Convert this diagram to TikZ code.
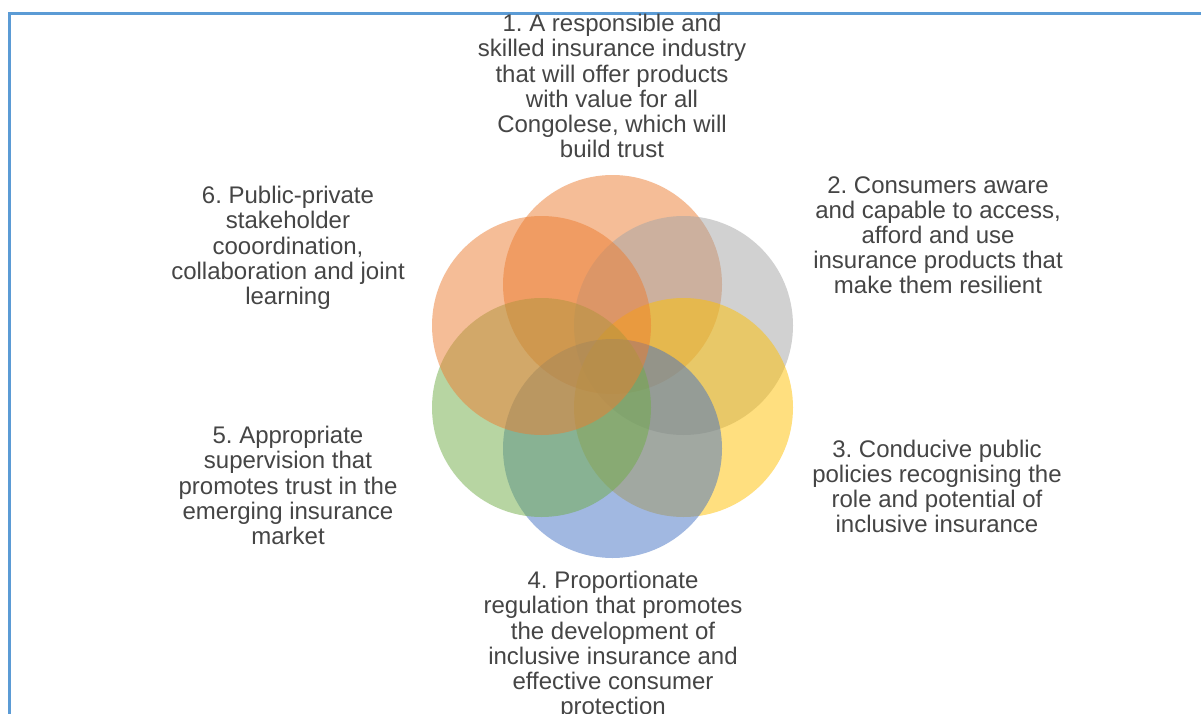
\documentclass[tikz,border=0pt]{standalone}
\usepackage{fontspec}
\setmainfont{Liberation Sans}
\frenchspacing
\begin{document}
\begin{tikzpicture}[x=0.75pt,y=-0.75pt,
  petal/.style={circle,draw=none,minimum size=164.25pt,inner sep=0pt,fill opacity=0.5},
  label/.style={anchor=north,align=center,inner sep=0pt,text=txtgray,
    font=\fontsize{18}{18.9}\selectfont}]
\definecolor{frameblue}{HTML}{5B9BD5}
\definecolor{txtgray}{HTML}{454545}
\definecolor{cOrange}{HTML}{ED7D31}
\definecolor{cGray}{HTML}{A5A5A5}
\definecolor{cGold}{HTML}{FFC000}
\definecolor{cBlue}{HTML}{4472C4}
\definecolor{cGreen}{HTML}{70AD47}
\useasboundingbox (0,0) rectangle (1201,713);
\fill[white] (0,0) rectangle (1201,713);

% frame
\draw[frameblue,line width=1.6pt] (9.5,13.5) rectangle (1240,760);

% six overlapping petals
\node[petal,fill=cOrange] (p1) at (612.5,284.5) {};
\node[petal,fill=cGray]   (p2) at (683.5,325.5) {};
\node[petal,fill=cGold]   (p3) at (683.5,407.5) {};
\node[petal,fill=cBlue]   (p4) at (612.5,448.5) {};
\node[petal,fill=cGreen]  (p5) at (541.5,407.5) {};
\node[petal,fill=cOrange] (p6) at (541.5,325.5) {};

% labels
\node[label] (t1) at (612,14) {1. A responsible and\\skilled insurance industry\\that will offer products\\with value for all\\Congolese, which will\\build trust};
\node[label] (t2) at (938,176) {2. Consumers aware\\and capable to access,\\afford and use\\insurance products that\\make them resilient};
\node[label] (t3) at (937,439.6) {3. Conducive public\\policies recognising the\\role and potential of\\inclusive insurance};
\node[label] (t4) at (613,571) {4. Proportionate\\regulation that promotes\\the development of\\inclusive insurance and\\effective consumer\\protection};
\node[label] (t5) at (288,426) {5. Appropriate\\supervision that\\promotes trust in the\\emerging insurance\\market};
\node[label] (t6) at (288,186) {6. Public-private\\stakeholder\\cooordination,\\collaboration and joint\\learning};
\end{tikzpicture}
\end{document}
